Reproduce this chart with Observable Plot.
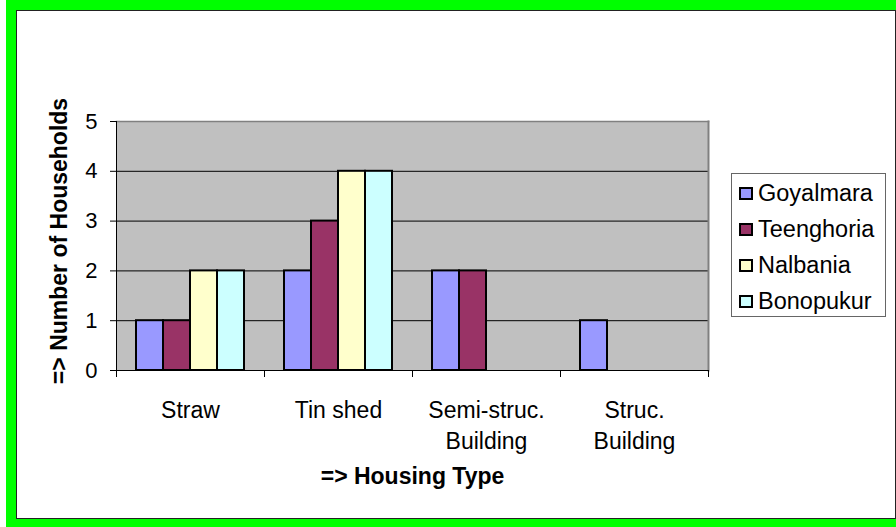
<!DOCTYPE html>
<html>
<head>
<meta charset="utf-8">
<script src="https://cdn.jsdelivr.net/npm/d3@7"></script>
<script src="https://cdn.jsdelivr.net/npm/@observablehq/plot@0.6"></script>
<style>
  html, body { margin: 0; padding: 0; background: #fff; overflow: hidden; }
  #chart { position: relative; width: 896px; height: 527px; overflow: hidden; font-family: "Liberation Sans", Arial, sans-serif; }
  #chart svg { position: absolute; left: 0; top: 0; }
  .outline {
    position: absolute; left: 6px; top: 0; width: 900px; height: 529px;
    box-sizing: border-box; border: 10px solid #00FF00;
    box-shadow: inset 0 0 0 1px #222;
  }
  .legend {
    position: absolute; left: 731px; top: 173px; width: 155px; height: 144px;
    box-sizing: border-box; border: 1px solid #666; background: #fff;
    padding: 1px 0 0 7px;
  }
  .legend .item { display: flex; align-items: center; height: 36px; font-size: 23.5px; color: #000; }
  .legend .sw { width: 14px; height: 13px; box-sizing: border-box; border: 2px solid #000; margin-right: 5px; flex: none; }
</style>
</head>
<body>
<div id="chart"><div class="outline"></div></div>
<script>
// Housing type categories (line breaks are drawn as two-line tick labels)
const categories = ["Straw", "Tin shed", "Semi-struc.\nBuilding", "Struc.\nBuilding"];
// Villages surveyed
const series = ["Goyalmara", "Teenghoria", "Nalbania", "Bonopukur"];
// Number of households per housing type, one array per village
const goyalmara = [1, 2, 2, 1];
const teenghoria = [1, 3, 2, 0];
const nalbania = [2, 4, 0, 0];
const bonopukur = [2, 4, 0, 0];
const seriesColors = ["#9999FF", "#993366", "#FFFFCC", "#CCFFFF"];
const yTicks = [0, 1, 2, 3, 4, 5];
const yTitle = "=> Number of Households";
const xTitle = "=> Housing Type";

const values = [goyalmara, teenghoria, nalbania, bonopukur];
const rows = categories.flatMap((category, i) =>
  series.map((name, j) => ({category, series: name, value: values[j][i]}))
).filter(d => d.value > 0);

const W = 896, H = 527;
const margins = {marginLeft: 116, marginRight: 188, marginTop: 121, marginBottom: 157};
const font = "'Liberation Sans', Arial, sans-serif";

// Plot area: grey panel, gridlines, value axis and category boundary ticks
const back = Plot.plot({
  width: W, height: H, ...margins,
  style: {fontFamily: font, fontSize: "22px", color: "#000", background: "transparent"},
  x: {domain: [0, categories.length], axis: null},
  y: {domain: [0, 5], axis: null},
  marks: [
    Plot.frame({fill: "#C0C0C0", stroke: null}),
    Plot.gridY(yTicks, {stroke: "#000", strokeOpacity: 1, strokeWidth: 1}),
    Plot.frame({anchor: "top", stroke: "#808080", strokeWidth: 1.5}),
    Plot.frame({anchor: "right", stroke: "#808080", strokeWidth: 2}),
    Plot.ruleX([0], {stroke: "#000"}),
    Plot.ruleY([0], {stroke: "#000"}),
    Plot.axisY(yTicks, {tickSize: 6, tickPadding: 13, tickFormat: d3.format("d"), label: null, fontSize: 22, stroke: "#000"}),
    Plot.axisX(d3.range(categories.length + 1), {tickSize: 7, tickFormat: () => "", label: null, stroke: "#000"}),
    Plot.text([yTitle], {frameAnchor: "left", textAnchor: "middle", rotate: -90, dx: -57, dy: -5, fontWeight: "bold", fontSize: 23, lineAnchor: "middle"}),
    Plot.text([xTitle], {frameAnchor: "bottom", dy: 106, fontWeight: "bold", fontSize: 23, lineAnchor: "middle"})
  ]
});

// Grouped bars: one facet per housing type, one bar per village
const front = Plot.plot({
  width: W, height: H, ...margins,
  style: {fontFamily: font, fontSize: "23px", color: "#000", background: "transparent"},
  fx: {domain: categories, padding: 0, label: null},
  x: {domain: series, paddingInner: 0, paddingOuter: 0.72, axis: null},
  y: {domain: [0, 5], axis: null},
  color: {domain: series, range: seriesColors},
  marks: [
    Plot.barY(rows, {fx: "category", x: "series", y: "value", fill: "series", stroke: "#000", strokeWidth: 2}),
    Plot.axisFx({anchor: "bottom", tickSize: 0, tickPadding: 25, fontSize: 23, lineHeight: 1.35, label: null})
  ]
});

const chart = document.getElementById("chart");
chart.insertBefore(back, chart.firstChild);
chart.insertBefore(front, back.nextSibling);

// Legend box listing each village with its bar colour
const legend = document.createElement("div");
legend.className = "legend";
series.forEach((name, i) => {
  const item = document.createElement("div");
  item.className = "item";
  const sw = document.createElement("span");
  sw.className = "sw";
  sw.style.background = seriesColors[i];
  const label = document.createElement("span");
  label.textContent = name;
  item.appendChild(sw);
  item.appendChild(label);
  legend.appendChild(item);
});
chart.appendChild(legend);
</script>
</body>
</html>
